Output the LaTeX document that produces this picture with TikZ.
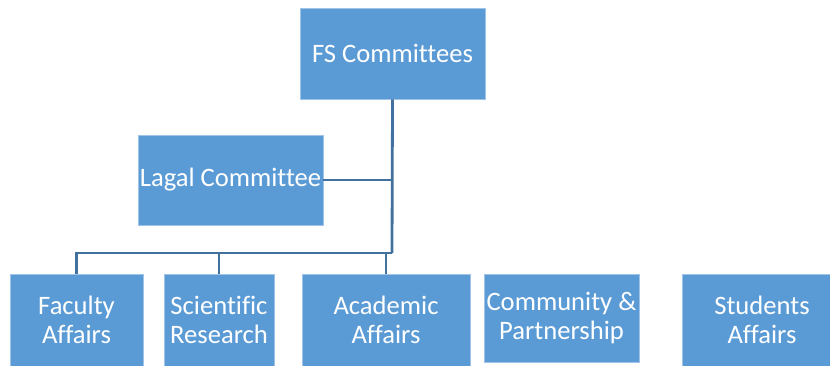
\documentclass[tikz,border=0pt]{standalone}
\usepackage{fontspec}
\setmainfont[Ligatures={NoCommon}]{Carlito}
\definecolor{boxblue}{RGB}{91,155,213}
\definecolor{boxedge}{RGB}{160,196,232}
\definecolor{linkblue}{RGB}{65,113,156}
\tikzset{
  unit/.style={draw=boxedge,line width=0.8pt,fill=boxblue,text=white,inner sep=0pt,
    align=center,font=\fontsize{26.6}{28.5}\selectfont},
  link/.style={linkblue,line width=2.8pt}
}
\begin{document}
\begin{tikzpicture}[x=1pt,y=-1pt]
    \useasboundingbox (0,0) rectangle (830,365);

    % Top of the tree
    \node[unit,minimum width=185pt,minimum height=91pt] (fs) at (392.5,53.5) {FS Committees};
    \node[unit,minimum width=185pt,minimum height=90pt] (lagal) at (230.5,180) {Lagal Committee};

    % Committees in the bottom row
    \node[unit,minimum width=133pt,minimum height=92pt] (faculty) at (76.5,320) {Faculty\\Affairs};
    \node[unit,minimum width=110pt,minimum height=92pt] (scientific) at (219,320) {Scientific\\Research};
    \node[unit,minimum width=168pt,minimum height=92pt] (academic) at (386,320) {Academic\\Affairs};
    \node[unit,minimum width=155pt,minimum height=88pt] (community) at (561.5,318) {Community \&\\Partnership};
    \node[unit,minimum width=160pt,minimum height=92pt] (students) at (762,320) {Students\\Affairs};

    % Trunk and bus
    \coordinate (bus) at (392,253);
    \draw[link] (fs.south) -- (bus);
    \draw[link] (lagal.east) -- (lagal.east -| fs.south);
    \draw[link] (bus) -| (faculty.north);
    \draw[link] (bus -| scientific.north) -- (scientific.north);
    \draw[link] (bus -| academic.north) -- (academic.north);
\end{tikzpicture}
\end{document}
